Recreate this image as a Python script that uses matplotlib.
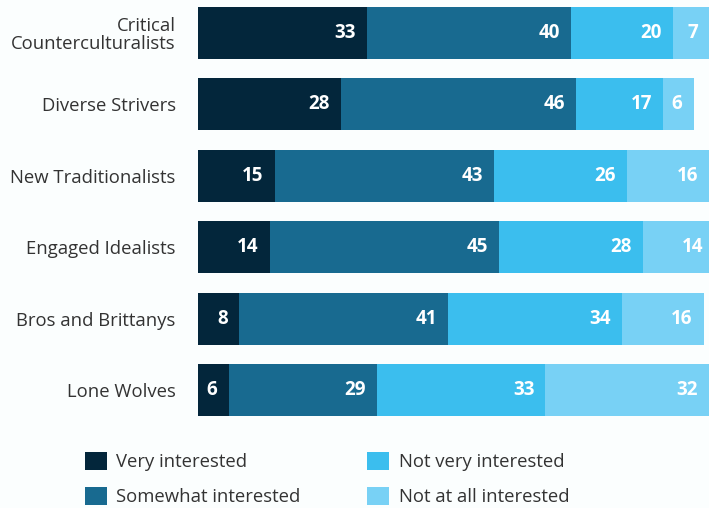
import numpy as np
import matplotlib
matplotlib.use("Agg")
import matplotlib.pyplot as plt
from matplotlib.patches import Patch

plt.rcParams['font.family'] = ['Open Sans', 'DejaVu Sans']

# Data
groups = ["Critical\nCounterculturalists", "Diverse Strivers", "New Traditionalists",
          "Engaged Idealists", "Bros and Brittanys", "Lone Wolves"]
very = [33, 28, 15, 14, 8, 6]
somewhat = [40, 46, 43, 45, 41, 29]
not_very = [20, 17, 26, 28, 34, 33]
not_at_all = [7, 6, 16, 14, 16, 32]

series_names = ["Very interested", "Somewhat interested",
                "Not very interested", "Not at all interested"]
colors = ["#03263b", "#186a90", "#3bbeee", "#78d1f5"]
bg = "#fbfefe"

fig = plt.figure(figsize=(7.09, 5.08), dpi=100, facecolor=bg)
ax = fig.add_axes([198 / 709, 1 - 430 / 508, 511 / 709, 430 / 508])
ax.set_facecolor(bg)

y = np.arange(len(groups))
left = np.zeros(len(groups))
for vals, col in zip([very, somewhat, not_very, not_at_all], colors):
    vals = np.array(vals)
    ax.barh(y, vals, left=left, height=0.73, color=col, linewidth=0)
    for yi, l, v in zip(y, left, vals):
        ax.annotate(str(v), xy=(l + v, yi), xytext=(-8, 0), textcoords="offset points",
                    ha="right", va="center", color="white", fontsize=13.5,
                    fontweight="bold", annotation_clip=False)
    left += vals

ax.set_xlim(0, 100)
ax.set_ylim(5.56, -0.462)
ax.set_yticks(y)
ax.set_yticklabels(groups, fontsize=13.3, color="#333333", linespacing=1.0)
ax.tick_params(axis="y", length=0, pad=16)
ax.set_xticks([])
for s in ax.spines.values():
    s.set_visible(False)

handles = [Patch(facecolor=c, edgecolor="none") for c in colors]
fig.legend(handles, series_names, ncol=2, loc="upper left",
           bbox_to_anchor=(85 / 709, 1 - 452 / 508), frameon=False,
           fontsize=13.3, handlelength=1.2, handleheight=1.1,
           handletextpad=0.5, columnspacing=3.6, labelspacing=0.85,
           borderpad=0, borderaxespad=0, labelcolor="#333333")

fig.savefig("out.png", dpi=100, facecolor=bg)
